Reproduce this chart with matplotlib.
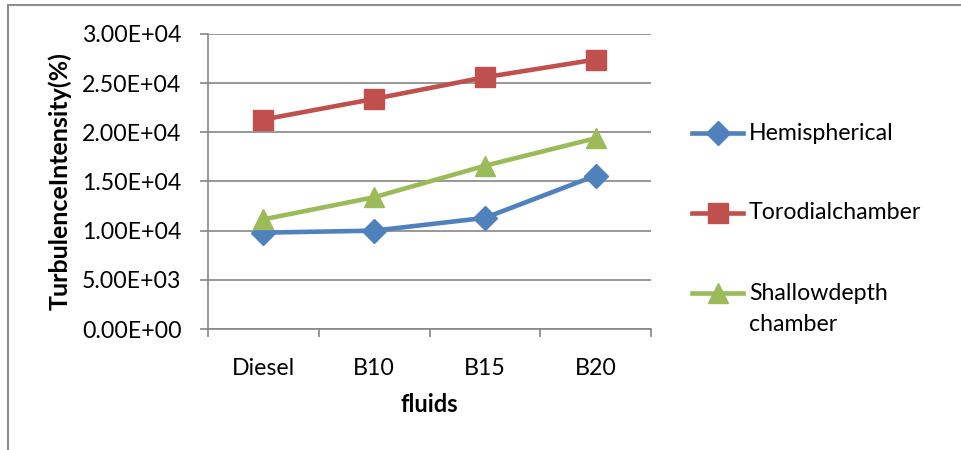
import matplotlib
matplotlib.use("Agg")
import matplotlib.pyplot as plt
from matplotlib.ticker import FuncFormatter, FixedLocator
from matplotlib.patches import Rectangle
from matplotlib.lines import Line2D

categories = ["Diesel", "B10", "B15", "B20"]
hemispherical = [9800, 10000, 11300, 15600]
torodial = [21300, 23400, 25600, 27400]
shallow = [11150, 13400, 16600, 19400]
series_labels = ["Hemispherical", "Torodialchamber", "Shallowdepth\nchamber"]
y_ticks = [0, 5000, 10000, 15000, 20000, 25000, 30000]

plt.rcParams['font.family'] = ['Lato', 'DejaVu Sans']

W, H = 961, 450
fig = plt.figure(figsize=(W / 100, H / 100), dpi=100)
fig.patch.set_facecolor("white")

# chart frame (extends beyond right/bottom edges)
fig.patches.append(Rectangle((8 / W, -0.1), 1.2, 445 / H + 0.1,
                             transform=fig.transFigure, fill=False,
                             edgecolor="#8c8c8c", linewidth=1.5))

ax = fig.add_axes([208 / W, (H - 329) / H, (651 - 208) / W, (329 - 34) / H])
grey = "#868686"
x = list(range(len(categories)))

colors = ["#4F81BD", "#C0504D", "#9BBB59"]
markers = ["D", "s", "^"]
msizes = [12, 14, 15]
for vals, c, m, ms, lab in zip([hemispherical, torodial, shallow], colors, markers, msizes, series_labels):
    ax.plot(x, vals, color=c, marker=m, markersize=ms, linewidth=3.3,
            markeredgecolor=c, label=lab, zorder=3, clip_on=False)

FS = 16.7
ax.set_xlim(-0.5, len(categories) - 0.5)
ax.set_ylim(0, 30000)
ax.yaxis.set_major_locator(FixedLocator(y_ticks))
ax.yaxis.set_major_formatter(FuncFormatter(lambda v, p: "%.2E" % v))
ax.grid(axis="y", color=grey, linewidth=1.2)
ax.set_axisbelow(True)

ax.xaxis.set_major_locator(FixedLocator([i - 0.5 for i in range(len(categories) + 1)]))
ax.xaxis.set_major_formatter(FuncFormatter(lambda v, p: ""))
ax.xaxis.set_minor_locator(FixedLocator(x))
ax.set_xticklabels(categories, minor=True)
ax.tick_params(axis="x", which="minor", length=0, pad=21, labelsize=FS)
ax.tick_params(axis="x", which="major", length=6, color=grey, width=1.2, direction="out")
ax.tick_params(axis="y", length=6, color=grey, width=1.2, direction="out", labelsize=FS, pad=13)

for s in ["top", "right"]:
    ax.spines[s].set_visible(False)
for s in ["left", "bottom"]:
    ax.spines[s].set_color(grey)
    ax.spines[s].set_linewidth(1.2)

ax.set_xlabel("fluids", fontsize=17, fontweight="bold", labelpad=10)
ax.set_ylabel("TurbulenceIntensity(%)", fontsize=18, fontweight="bold")
ax.yaxis.set_label_coords((72 - 208) / (651 - 208), 0.5)

# legend drawn at Excel-like positions (handle aligned with first text line)
row_y = [133, 213, 293]
for c, m, ms, lab, ry in zip(colors, markers, msizes, series_labels, row_y):
    yf = (H - ry) / H
    fig.add_artist(Line2D([692 / W, 743 / W], [yf, yf], transform=fig.transFigure,
                          color=c, linewidth=3.3))
    fig.add_artist(Line2D([717.5 / W], [yf], transform=fig.transFigure,
                          color=c, marker=m, markersize=ms, markeredgecolor=c))
    fig.text(749 / W, (H - ry + 10.5) / H, lab, fontsize=FS, va="top", ha="left",
             linespacing=1.6)

fig.savefig("out.png", dpi=100, facecolor="white")
